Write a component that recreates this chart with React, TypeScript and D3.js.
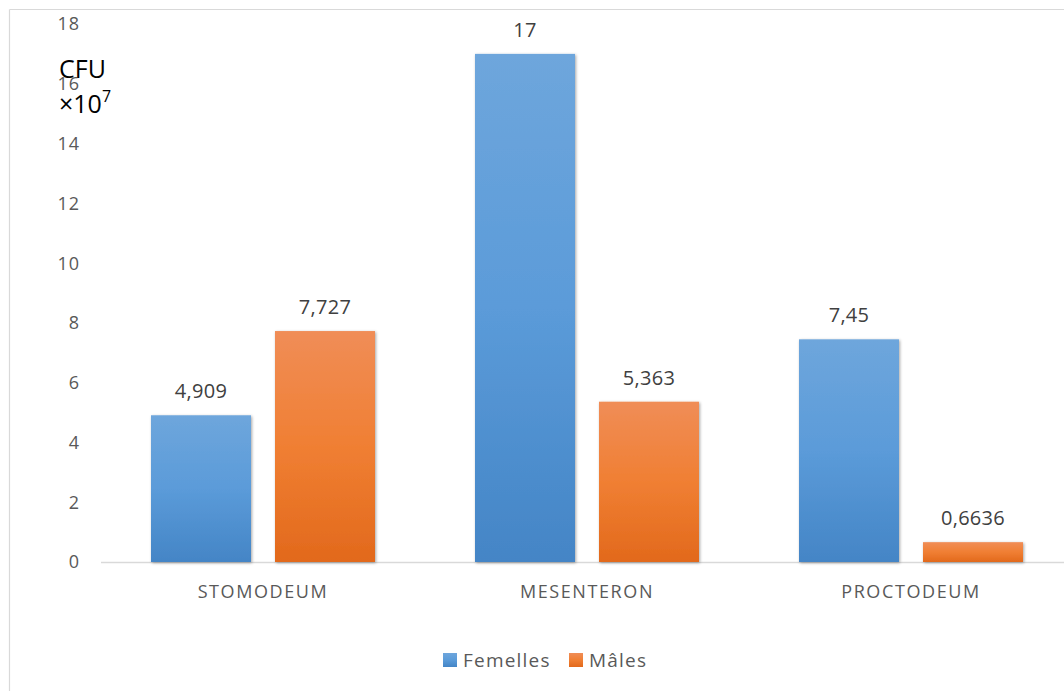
import React from "react";
import * as d3 from "d3";

const categories = ["STOMODEUM", "MESENTERON", "PROCTODEUM"];
const series = ["Femelles", "Mâles"];
const femelles = [4.909, 17, 7.45];
const males = [7.727, 5.363, 0.6636];
const femellesLabels = ["4,909", "17", "7,45"];
const malesLabels = ["7,727", "5,363", "0,6636"];
const yTicks = [0, 2, 4, 6, 8, 10, 12, 14, 16, 18];

const W = 1064;
const H = 691;
const plotLeft = 101;
const plotRight = 1073;
const y0 = 562;
const yTop = 24;
const FONT = "'Open Sans', 'Liberation Sans', sans-serif";

export default function App() {
  const x = d3.scaleBand<string>().domain(categories).range([plotLeft, plotRight]).paddingInner(0).paddingOuter(0);
  const x1 = d3
    .scaleBand<string>()
    .domain(series)
    .range([0, x.bandwidth()])
    .paddingInner(24 / 124)
    .paddingOuter(50 / 124);
  const y = d3.scaleLinear().domain([0, 18]).range([y0, yTop]);

  const values = [femelles, males];
  const labels = [femellesLabels, malesLabels];
  const fills = ["url(#gBlue)", "url(#gOrange)"];

  return (
    <svg width={W} height={H} style={{ position: "absolute", left: 0, top: 0, display: "block" }}>
      <defs>
        <linearGradient id="gBlue" x1="0" y1="0" x2="0" y2="1">
          <stop offset="0" stopColor="#6ea6dc" />
          <stop offset="0.5" stopColor="#5b9bd9" />
          <stop offset="1" stopColor="#4485c6" />
        </linearGradient>
        <linearGradient id="gOrange" x1="0" y1="0" x2="0" y2="1">
          <stop offset="0" stopColor="#f08d57" />
          <stop offset="0.5" stopColor="#f07f33" />
          <stop offset="1" stopColor="#e2691c" />
        </linearGradient>
        <filter id="shadow" x="-20%" y="-20%" width="140%" height="140%">
          <feDropShadow dx="1" dy="1" stdDeviation="1.8" floodColor="#000" floodOpacity="0.35" />
        </filter>
      </defs>
      <rect x={0} y={0} width={W} height={H} fill="#fff" />
      {/* chart frame */}
      <line x1={9.5} y1={9.5} x2={W} y2={9.5} stroke="#d9d9d9" strokeWidth={1.2} />
      <line x1={9.5} y1={9.5} x2={9.5} y2={H} stroke="#d9d9d9" strokeWidth={1.2} />

      {/* y tick labels */}
      {yTicks.map((t) => (
        <text
          key={t}
          x={80}
          y={y(t)}
          dy="0.36em"
          textAnchor="end"
          fontFamily={FONT}
          fontSize={18}
          letterSpacing={1}
          fill="#595959"
        >
          {t}
        </text>
      ))}

      {/* baseline */}
      <line x1={plotLeft} y1={y0 + 0.5} x2={W} y2={y0 + 0.5} stroke="#d9d9d9" strokeWidth={1.5} />

      {/* bars */}
      {categories.map((c, i) => (
        <g key={c} transform={`translate(${x(c)},0)`}>
          {series.map((s, k) => {
            const v = values[k][i];
            const bx = x1(s) as number;
            return (
              <g key={s}>
                <rect
                  x={bx}
                  y={y(v)}
                  width={x1.bandwidth()}
                  height={y0 - y(v)}
                  fill={fills[k]}
                  filter="url(#shadow)"
                />
                <text
                  x={bx + x1.bandwidth() / 2}
                  y={y(v) - 17}
                  textAnchor="middle"
                  fontFamily={FONT}
                  fontSize={20}
                  letterSpacing={0.3}
                  fill="#404040"
                >
                  {labels[k][i]}
                </text>
              </g>
            );
          })}
          <text
            x={x.bandwidth() / 2}
            y={598}
            textAnchor="middle"
            fontFamily={FONT}
            fontSize={18}
            letterSpacing={1.6}
            fill="#595959"
          >
            {c}
          </text>
        </g>
      ))}

      {/* axis title */}
      <text x={59} y={78} fontFamily={FONT} fontSize={25} fill="#000">
        CFU
      </text>
      <text x={59} y={113} fontFamily={FONT} fontSize={25} fill="#000">
        ×10<tspan dy={-11} fontSize={16}>7</tspan>
      </text>

      {/* legend */}
      {series.map((s, k) => {
        const lx = [443, 569][k];
        return (
          <g key={s}>
            <rect x={lx} y={653} width={14} height={14} fill={fills[k]} />
            <text x={lx + 20} y={667} fontFamily={FONT} fontSize={19} letterSpacing={1.2} fill="#595959">
              {s}
            </text>
          </g>
        );
      })}
    </svg>
  );
}
